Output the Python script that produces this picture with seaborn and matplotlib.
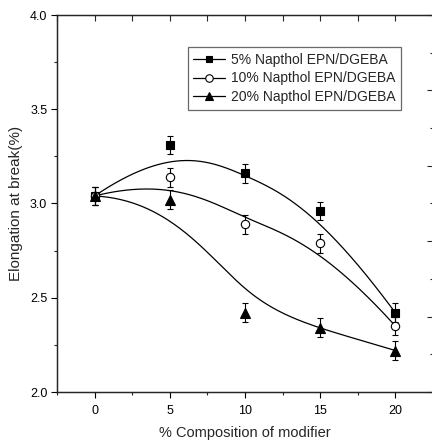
import numpy as np
import pandas as pd
import matplotlib
matplotlib.use("Agg")
import matplotlib.pyplot as plt
from matplotlib.lines import Line2D
from matplotlib.ticker import MultipleLocator, FixedLocator, NullFormatter
import seaborn as sns

composition = [0, 5, 10, 15, 20]
series_names = ["5% Napthol EPN/DGEBA", "10% Napthol EPN/DGEBA", "20% Napthol EPN/DGEBA"]
elong_5 = [3.04, 3.31, 3.16, 2.96, 2.42]
elong_10 = [3.04, 3.14, 2.89, 2.79, 2.35]
elong_20 = [3.04, 3.02, 2.42, 2.34, 2.22]
err_5 = [0.05, 0.05, 0.05, 0.05, 0.05]
err_10 = [0.05, 0.05, 0.05, 0.05, 0.05]
err_20 = [0.05, 0.05, 0.05, 0.05, 0.05]

sns.set_style("ticks")
plt.rcParams['font.family'] = ['Liberation Sans', 'DejaVu Sans']


def bspline(px, py, n=200, k=3):
    px = np.asarray(px, float); py = np.asarray(py, float)
    m = len(px)
    inner = np.linspace(0, 1, m - k + 1)[1:-1]
    knots = np.concatenate([np.zeros(k + 1), inner, np.ones(k + 1)])
    ts = np.linspace(0, 1, n)
    ts[-1] = 1 - 1e-12

    def basis(i, d, t):
        if d == 0:
            return 1.0 if knots[i] <= t < knots[i + 1] else 0.0
        a = 0.0
        if knots[i + d] != knots[i]:
            a = (t - knots[i]) / (knots[i + d] - knots[i]) * basis(i, d - 1, t)
        b = 0.0
        if knots[i + d + 1] != knots[i + 1]:
            b = (knots[i + d + 1] - t) / (knots[i + d + 1] - knots[i + 1]) * basis(i + 1, d - 1, t)
        return a + b

    xs, ys = [], []
    for t in ts:
        w = np.array([basis(i, k, t) for i in range(m)])
        xs.append(w @ px); ys.append(w @ py)
    return np.array(xs), np.array(ys)


fig = plt.figure(figsize=(4.32, 4.48), dpi=100)
ax = fig.add_axes([57 / 432, 56 / 448, 376 / 432, 377 / 448])

markers = ["s", "o", "^"]
faces = ["black", "white", "black"]
msizes = [5.5, 6, 6.5]
all_y = [elong_5, elong_10, elong_20]
all_e = [err_5, err_10, err_20]

for name, yv, ev, mk, fc, ms in zip(series_names, all_y, all_e, markers, faces, msizes):
    sx, sy = bspline(composition, yv)
    curve = pd.DataFrame({"x": sx, "y": sy})
    sns.lineplot(data=curve, x="x", y="y", ax=ax, color="black", lw=0.9, sort=False, estimator=None)
    ax.errorbar(composition, yv, yerr=ev, fmt=mk, mfc=fc, mec="black", color="black",
                ms=ms, mew=0.8, elinewidth=0.8, capsize=2.5, capthick=0.8, zorder=3)

ax.set_xlim(-2.5, 22.5)
ax.set_ylim(2.0, 4.0)
ax.xaxis.set_major_locator(FixedLocator([0, 5, 10, 15, 20]))
ax.xaxis.set_minor_locator(FixedLocator([-2.5, 2.5, 7.5, 12.5, 17.5, 22.5]))
ax.yaxis.set_major_locator(MultipleLocator(0.5))
ax.yaxis.set_minor_locator(MultipleLocator(0.25))
ax.tick_params(axis="both", which="major", direction="out", length=4, width=0.8, labelsize=9, colors="black")
ax.tick_params(axis="both", which="minor", direction="out", length=2.5, width=0.8)
ax.tick_params(axis="x", pad=5)
ax.tick_params(axis="y", pad=3)

for s in ["left", "bottom", "top", "right"]:
    ax.spines[s].set_linewidth(0.9)
    ax.spines[s].set_color("black")

# top ticks (inward, every 2.5)
axt = ax.twiny()
axt.set_xlim(ax.get_xlim())
axt.xaxis.set_major_locator(MultipleLocator(2.5))
axt.xaxis.set_major_formatter(NullFormatter())
axt.tick_params(axis="x", direction="in", length=4, width=0.8, top=True)

# right ticks (inward)
axr = ax.twinx()
axr.set_ylim(ax.get_ylim())
axr.yaxis.set_major_locator(MultipleLocator(0.4))
axr.yaxis.set_minor_locator(FixedLocator([2.2, 2.6, 3.0, 3.4, 3.8]))
axr.yaxis.set_major_formatter(NullFormatter())
axr.tick_params(axis="y", which="major", direction="in", length=4, width=0.8)
axr.tick_params(axis="y", which="minor", direction="in", length=2.5, width=0.8)

ax.set_xlabel("% Composition of modifier", fontsize=10.5, labelpad=7)
ax.set_ylabel("Elongation at break(%)", fontsize=11, labelpad=5)

handles = [Line2D([0], [0], color="black", lw=0.9, marker=mk, mfc=fc, mec="black", ms=ms * 0.9, mew=0.8)
           for mk, fc, ms in zip(markers, faces, msizes)]
leg = ax.legend(handles, series_names, loc="upper right", bbox_to_anchor=(0.915, 0.915),
                borderaxespad=0, fontsize=10, frameon=True, fancybox=False, handlelength=2.3,
                handletextpad=0.4, labelspacing=0.35, borderpad=0.4)
leg.get_frame().set_edgecolor("#444444")
leg.get_frame().set_linewidth(0.9)

fig.savefig("out.png", dpi=100)
